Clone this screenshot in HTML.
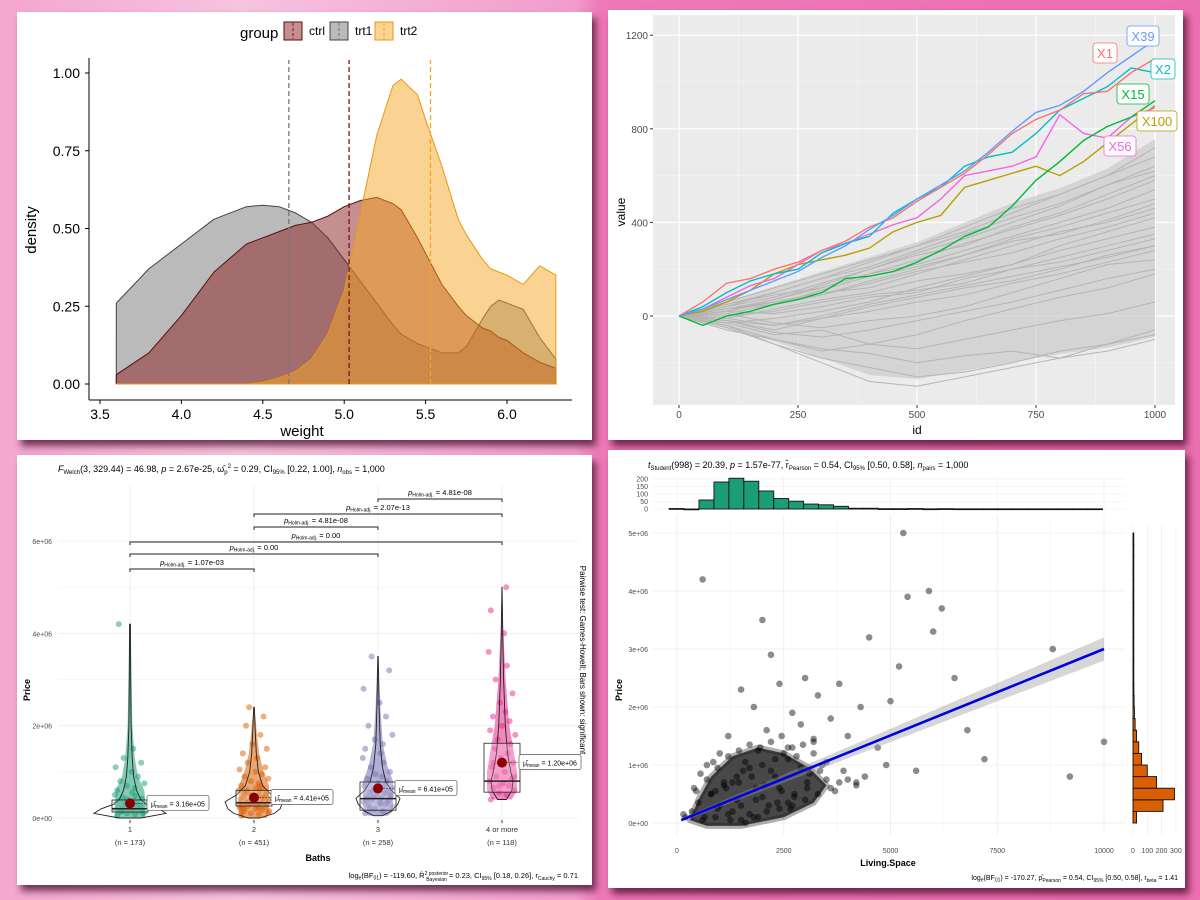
<!DOCTYPE html>
<html><head><meta charset="utf-8">
<style>
html,body{margin:0;padding:0;width:1200px;height:900px;overflow:hidden;}
body{background:linear-gradient(90deg,#f4a6cf 0%,#f7c3df 20%,#f29ccb 48%,#ee79b8 50%,#ec6fb2 100%);position:relative;font-family:"Liberation Sans",sans-serif;}
.panel{position:absolute;background:#fff;box-shadow:4px 6px 7px rgba(70,10,40,0.75);}
svg{position:absolute;left:0;top:0;}
</style></head>
<body>
<div class="panel" style="left:17px;top:12px;width:575px;height:428px"></div>
<div class="panel" style="left:608px;top:10px;width:575px;height:430px"></div>
<div class="panel" style="left:17px;top:455px;width:575px;height:430px"></div>
<div class="panel" style="left:608px;top:450px;width:577px;height:438px"></div>
<svg id="s" width="1200" height="900" xmlns="http://www.w3.org/2000/svg" font-family="Liberation Sans, sans-serif"></svg>
<script>
// ===== Panel 1: density =====
const densX=[3.6,3.8,4.0,4.2,4.4,4.5,4.6,4.7,4.8,4.9,5.0,5.1,5.2,5.3,5.35,5.45,5.5,5.6,5.7,5.75,5.85,5.9,5.95,6.0,6.1,6.2,6.3];
const densCtrl=[0.03,0.10,0.22,0.36,0.45,0.47,0.49,0.51,0.52,0.54,0.57,0.59,0.60,0.58,0.56,0.47,0.42,0.32,0.25,0.22,0.18,0.17,0.15,0.14,0.10,0.07,0.05];
const densTrt1=[0.26,0.37,0.45,0.53,0.57,0.575,0.57,0.55,0.52,0.47,0.40,0.33,0.26,0.19,0.16,0.13,0.12,0.10,0.10,0.12,0.21,0.25,0.27,0.26,0.24,0.15,0.08];
const densTrt2=[0,0,0,0,0,0.005,0.02,0.04,0.08,0.16,0.30,0.55,0.80,0.96,0.98,0.93,0.85,0.70,0.53,0.48,0.40,0.37,0.36,0.35,0.32,0.38,0.35];
const groupMeans=[5.03,4.66,5.53];
const groupNames=['ctrl','trt1','trt2'];
const xTicks1=[3.5,4.0,4.5,5.0,5.5,6.0];
const yTicks1=[0,0.25,0.5,0.75,1.0];
// ===== Panel 2: random walks =====
const walkIds=[0,100,200,300,400,500,600,700,800,900,1000];
const greyWalks=[
[0,-20,-60,-10,40,80,120,150,200,260,300],[0,30,60,90,150,200,260,330,380,440,500],
[0,-40,-100,-150,-120,-80,-20,30,80,120,180],[0,50,100,160,210,280,350,420,480,560,620],
[0,20,10,40,80,100,160,200,230,280,330],[0,-30,-80,-60,-120,-140,-100,-60,-20,10,60],
[0,40,80,140,200,260,300,380,440,520,600],[0,10,-30,-50,-20,0,40,100,160,220,240],
[0,60,120,180,240,300,380,460,520,600,680],[0,-10,30,70,100,150,180,220,300,360,420],
[0,-50,-120,-180,-220,-260,-240,-200,-150,-120,-80],[0,30,70,120,180,220,280,340,400,460,540],
[0,20,60,100,120,180,240,300,360,400,460],[0,-20,-40,-10,20,60,90,140,180,230,280],
[0,40,100,160,230,300,360,440,520,600,720],[0,-30,-10,20,60,120,170,220,280,330,380],
[0,10,50,90,140,190,230,270,330,380,440],[0,-60,-100,-140,-160,-200,-170,-150,-180,-120,-60],
[0,30,50,110,170,210,260,320,350,410,480],[0,0,20,60,90,110,140,200,250,300,350],
[0,50,90,120,180,240,310,370,430,500,580],[0,-20,-70,-90,-60,-20,20,60,110,160,200],
[0,-40,-120,-200,-280,-300,-260,-220,-180,-150,-100],[0,20,70,130,200,270,330,400,470,560,640],
[0,-10,-40,0,50,90,130,170,210,250,300]];
const hiIds=[0,50,100,150,200,250,300,350,400,450,500,550,600,650,700,750,800,850,900,950,1000];
const walkX39=[0,30,70,110,150,190,250,300,370,430,500,560,620,700,790,870,900,960,1040,1110,1180];
const walkX1=[0,60,140,160,200,230,280,320,380,420,490,550,610,690,780,840,880,950,960,1040,1100];
const walkX2=[0,40,100,150,180,200,270,310,340,440,500,550,640,680,700,780,880,930,980,1060,1040];
const walkX15=[0,-40,0,20,50,70,100,160,170,190,230,280,340,380,470,580,660,750,810,850,920];
const walkX100=[0,20,60,110,180,220,240,260,290,360,400,430,550,580,610,640,600,660,740,820,900];
const walkX56=[0,30,80,130,160,220,280,310,350,390,420,500,600,620,640,680,860,780,760,850,890];
const hiNames=['X39','X1','X2','X15','X100','X56'];
const xTicks2=[0,250,500,750,1000];
const yTicks2=[0,400,800,1200];
// ===== Panel 3: violins =====
const bathCats=['1','2','3','4 or more'];
const bathN=['(n = 173)','(n = 451)','(n = 258)','(n = 118)'];
const priceG1=[0.05,0.08,0.1,0.12,0.13,0.15,0.16,0.18,0.19,0.2,0.21,0.22,0.23,0.25,0.26,0.27,0.28,0.3,0.31,0.32,0.34,0.35,0.37,0.38,0.4,0.42,0.45,0.48,0.5,0.55,0.6,0.65,0.7,0.75,0.8,0.9,1.0,1.1,1.2,1.3,1.5,4.2,0.1,0.2,0.3,0.15,0.25,0.35];
const priceG2=[0.05,0.08,0.1,0.12,0.15,0.18,0.2,0.22,0.24,0.25,0.27,0.28,0.3,0.31,0.32,0.33,0.35,0.36,0.38,0.4,0.42,0.44,0.46,0.48,0.5,0.52,0.55,0.58,0.6,0.65,0.7,0.75,0.8,0.85,0.9,0.95,1.0,1.05,1.1,1.2,1.3,1.4,1.5,1.6,1.8,2.0,2.2,2.4,0.15,0.25,0.35,0.45,0.2,0.3,0.4,0.5,0.6,0.7,0.3,0.4,0.12,0.22,0.32,0.42,0.55,0.65];
const priceG3=[0.1,0.15,0.2,0.25,0.28,0.3,0.33,0.35,0.38,0.4,0.42,0.45,0.48,0.5,0.53,0.55,0.58,0.6,0.65,0.7,0.75,0.8,0.85,0.9,0.95,1.0,1.1,1.2,1.3,1.4,1.5,1.6,1.7,1.8,2.0,2.2,2.5,2.8,3.2,3.5,0.3,0.4,0.5,0.6,0.7,0.2,0.35,0.45];
const priceG4=[0.4,0.5,0.55,0.6,0.65,0.7,0.75,0.8,0.85,0.9,1.0,1.1,1.2,1.3,1.4,1.5,1.6,1.7,1.8,1.9,2.0,2.1,2.2,2.3,2.5,2.7,3.0,3.3,3.6,4.0,4.5,5.0,0.7,0.9,1.2];
const jitter=[-0.8,0.3,-0.2,0.9,-0.6,0.5,0.1,-0.9,0.7,-0.4,0.2,-0.7,0.8,-0.1,0.4,-0.5,0.6,-0.3,0.95,-0.85,0.0,0.55,-0.65,0.25,-0.15,0.75,-0.45,0.35,-0.95,0.15];
const boxQ1=[0.13,0.26,0.17,0.56], boxMed=[0.2,0.33,0.42,0.8], boxQ3=[0.39,0.6,0.78,1.62];
const meanVals=[0.316,0.441,0.641,1.20];
const meanLbl=['3.16e+05','4.41e+05','6.41e+05','1.20e+06'];
const vioY=[[0,0.1,0.2,0.3,0.4,0.6,0.9,1.3,2,3,4.2],[0,0.1,0.2,0.35,0.5,0.7,1.0,1.4,1.9,2.4],[0.05,0.15,0.3,0.43,0.6,0.8,1.1,1.6,2.4,3.5],[0.4,0.6,0.8,1.0,1.4,2.0,3.0,4.0,5.0]];
const vioD=[[0.3,1,0.8,0.45,0.3,0.18,0.1,0.06,0.03,0.02,0.01],[0.2,0.7,0.9,1,0.6,0.3,0.15,0.08,0.04,0.01],[0.2,0.6,0.9,1,0.6,0.35,0.2,0.1,0.05,0.01],[0.4,0.9,1,0.8,0.5,0.3,0.15,0.06,0.01]];
const vioMax=[36,29,22,11];
const pairFrom=[3,2,2,1,1,1], pairTo=[4,4,3,4,3,2];
const pairLbl=['4.81e-08','2.07e-13','4.81e-08','0.00','0.00','1.07e-03'];
const yTicks3=[0,2,4,6];
// ===== Panel 4: scatter =====
const histStart=-185, histW=350;
const histCounts=[3,0,60,180,205,185,120,70,52,33,28,18,5,5,2,2,3,1,2,1,1,1,1,1,1,1,1,1,1];
const priceBinW=0.2;
const priceCounts=[25,210,290,165,100,60,40,25,15,10,8,6,5,4,3,3,2,2,2,1,1,1,1,1,1];
const ptsX=[5300,600,5900,6200,5400,2000,2200,4500,6000,8800,6500,5200,3800,1500,2400,3000,3300,4300,5000,6800,7200,10000,9200,3600,2700,2900,1800,2100,4000,4700,3200,2500,1200,1000,3400,3900,4400,5600,4900,200,150,400,700,2600,2300,1900,1700,1600,3100,3500,2800,2200,1400,1300,1100,900,800,2000,2400,3700,4200,2600,1500,1850,2750,3050];
const ptsY=[5.0,4.2,4.0,3.7,3.9,3.5,2.9,3.2,3.3,3.0,2.5,2.7,2.4,2.3,2.4,2.5,2.2,2.0,2.1,1.6,1.1,1.4,0.8,1.8,1.9,1.7,2.0,1.6,1.5,1.3,1.4,1.2,1.5,1.2,1.0,0.9,0.8,0.9,1.0,0.1,0.15,0.6,1.0,1.3,1.1,1.25,0.95,1.05,0.85,0.75,1.15,0.9,0.8,0.7,0.65,0.55,0.5,0.45,0.6,0.55,0.7,0.35,0.3,0.4,0.5,0.6];
const clusterX=[350,500,650,800,950,1100,1250,1400,1550,1700,1850,2000,2150,2300,2450,2600,2750,2900,3050,3200,3350,3500,450,700,950,1200,1450,1700,1950,2200,2450,2700,2950,3200,600,900,1200,1500,1800,2100,2400,2700,3000,3300,3600,3800,4000,4200,550,850,1150,1450,1750,2050,2350,2650,1000,1300,1600,1900];
const clusterY=[0.2,0.35,0.1,0.5,0.25,0.7,0.05,0.4,0.9,0.15,0.6,1.0,0.3,0.8,0.55,1.1,0.45,0.95,0.7,1.2,0.9,1.05,0.55,0.75,0.95,1.15,1.25,1.35,1.3,1.4,1.5,1.3,1.35,1.45,0.05,0.1,0.15,0.05,0.1,0.2,0.25,0.3,0.4,0.5,0.6,0.7,0.75,0.65,0.85,1.05,0.6,0.7,0.8,0.65,0.35,0.25,0.3,0.2,0.0,0.1];
const blobX=[300,700,1500,2500,3200,3500,3100,2500,1900,1300,800,500];
const blobY=[0.05,-0.05,-0.05,0.1,0.35,0.65,0.95,1.2,1.3,1.15,0.8,0.4];
const fitX=[100,10000], fitY=[0.05,3.0], fitSE=[0.03,0.2];
const xTicks4=[0,2500,5000,7500,10000];
const yTicks4=[0,1,2,3,4,5];

const S=document.getElementById('s');
const NS='http://www.w3.org/2000/svg';
function mk(tag,attrs,parent){const e=document.createElementNS(NS,tag);for(const k in attrs)e.setAttribute(k,attrs[k]);(parent||S).appendChild(e);return e;}
function txt(x,y,s,size,anchor,fill,parent,extra){const t=mk('text',Object.assign({x:x,y:y,'font-size':size,'text-anchor':anchor||'start',fill:fill||'#000'},extra||{}),parent);t.textContent=s;return t;}

// ---------- Panel 1 ----------
const X1=v=>100+(v-3.5)*162.8, Y1=v=>384-v*311;
const g1=mk('g',{});


const cols1=[['#8b2020',0.5,'#5a0d0d'],['#8c8c8c',0.6,'#444'],['#f5a623',0.5,'#e69a10']];
[densTrt1,densCtrl,densTrt2].forEach((d,k)=>{
  const idx=[1,0,2][k]; const c=cols1[idx];
  let p='M'+X1(densX[0])+','+Y1(0);
  densX.forEach((x,i)=>{p+=' L'+X1(x).toFixed(1)+','+Y1(d[i]).toFixed(1);});
  p+=' L'+X1(densX[densX.length-1])+','+Y1(0)+' Z';
  const e=mk('path',{d:p,fill:c[0],'fill-opacity':c[1],stroke:c[2],'stroke-width':1,'stroke-linejoin':'round'},g1);
  
  
});
const vcols=['#7a1616','#777','#f5a623'];
groupMeans.forEach((m,i)=>{
  const e=mk('line',{x1:X1(m),x2:X1(m),y1:Y1(0),y2:60,stroke:vcols[i],'stroke-width':1.3,'stroke-dasharray':'5,3'},g1);
  
  
});
mk('line',{x1:89,x2:89,y1:58,y2:400,stroke:'#000','stroke-width':1},g1);
mk('line',{x1:89,x2:572,y1:400,y2:400,stroke:'#000','stroke-width':1},g1);
xTicks1.forEach(v=>{mk('line',{x1:X1(v),x2:X1(v),y1:400,y2:404,stroke:'#000'},g1);txt(X1(v),419,v.toFixed(1),14,'middle','#000',g1);});
yTicks1.forEach(v=>{mk('line',{x1:85,x2:89,y1:Y1(v),y2:Y1(v),stroke:'#000'},g1);txt(80,Y1(v)+5,v.toFixed(2),14,'end','#000',g1);});
let t=txt(302,436,'weight',15,'middle','#000',g1);
t=txt(0,0,'density',15,'middle','#000',g1,{transform:'translate(36,230) rotate(-90)'});
t=txt(240,38,'group',15,'start','#000',g1);
const lgx=[284,330,375];
groupNames.forEach((n,i)=>{
  const lg=mk('g',{},g1);
  
  
  mk('rect',{x:lgx[i],y:22,width:18,height:18,fill:cols1[i][0],'fill-opacity':cols1[i][1],stroke:cols1[i][2]},lg);
  mk('line',{x1:lgx[i]+9,x2:lgx[i]+9,y1:23,y2:39,stroke:vcols[i],'stroke-dasharray':'3,2'},lg);
  txt(lgx[i]+25,35,n,12,'start','#000',lg);
});

// ---------- Panel 2 ----------
const X2=v=>679+v*0.476, Y2=v=>316-v*0.234;
const g2=mk('g',{});


mk('rect',{x:653,y:15,width:522,height:390,fill:'#ebebeb'},g2);
[125,375,625,875].forEach(v=>mk('line',{x1:X2(v),x2:X2(v),y1:15,y2:405,stroke:'#f5f5f5','stroke-width':0.6},g2));
[-200,200,600,1000].forEach(v=>mk('line',{x1:653,x2:1175,y1:Y2(v),y2:Y2(v),stroke:'#f5f5f5','stroke-width':0.6},g2));
xTicks2.forEach(v=>{mk('line',{x1:X2(v),x2:X2(v),y1:15,y2:405,stroke:'#fff','stroke-width':1.2},g2);mk('line',{x1:X2(v),x2:X2(v),y1:405,y2:408,stroke:'#333'},g2);txt(X2(v),418,String(v),10,'middle','#4d4d4d',g2);});
yTicks2.forEach(v=>{mk('line',{x1:653,x2:1175,y1:Y2(v),y2:Y2(v),stroke:'#fff','stroke-width':1.2},g2);mk('line',{x1:650,x2:653,y1:Y2(v),y2:Y2(v),stroke:'#333'},g2);txt(648,Y2(v)+4,String(v),10,'end','#4d4d4d',g2);});
let up='',lo=[];
walkIds.forEach((id,i)=>{const vals=greyWalks.map(w=>w[i]);const mx=Math.max(...vals),mn=Math.min(...vals);up+=(i?' L':'M')+X2(id)+','+Y2(mx*1.05);lo.unshift(X2(id)+','+Y2(mn*0.9));});
const env=mk('path',{d:up+' L'+lo.join(' L')+' Z',fill:'#c4c4c4','fill-opacity':0.6},g2);


greyWalks.forEach((w,k)=>{
  const e=mk('polyline',{points:w.map((v,i)=>X2(walkIds[i])+','+Y2(v)).join(' '),fill:'none',stroke:'#b5b5b5','stroke-width':1},g2);
  
  
});
const hiSeries=[walkX39,walkX1,walkX2,walkX15,walkX100,walkX56];
const hiCols=['#619cff','#f8766d','#00bfc4','#00ba38','#b79f00','#f564e3'];
[4,5,3,2,1,0].forEach(k=>{
  const e=mk('polyline',{points:hiSeries[k].map((v,i)=>X2(hiIds[i])+','+Y2(v)).join(' '),fill:'none',stroke:hiCols[k],'stroke-width':1.4},g2);
  
  
});
const lblPos=[[1143,36],[1105,53],[1163,69],[1133,94],[1157,121],[1120,146]];
hiNames.forEach((n,k)=>{
  const w=n.length*8+8;
  const lg=mk('g',{},g2);
  
  
  mk('rect',{x:lblPos[k][0]-w/2,y:lblPos[k][1]-10,width:w,height:20,rx:3,fill:'#fff','fill-opacity':0.9,stroke:hiCols[k],'stroke-width':0.8},lg);
  txt(lblPos[k][0],lblPos[k][1]+5,n,13,'middle',hiCols[k],lg);
});
t=txt(917,434,'id',12,'middle','#000',g2);
t=txt(0,0,'value',12,'middle','#000',g2,{transform:'translate(625,212) rotate(-90)'});

// ---------- Panel 3 ----------
const catX=[130,254,378,502];
const Y3=v=>818-v*46.15;
const g3=mk('g',{});


[1,3,5].forEach(v=>mk('line',{x1:58,x2:578,y1:Y3(v),y2:Y3(v),stroke:'#f2f2f2','stroke-width':0.6},g3));
yTicks3.forEach(v=>{mk('line',{x1:58,x2:578,y1:Y3(v),y2:Y3(v),stroke:'#ebebeb','stroke-width':0.8},g3);txt(52,Y3(v)+3,v===0?'0e+00':v+'e+06',7,'end','#4d4d4d',g3);});
catX.forEach(x=>mk('line',{x1:x,x2:x,y1:485,y2:830,stroke:'#ebebeb','stroke-width':0.8},g3));
const gcols=['#1b9e77','#d95f02','#7570b3','#e7298a'];
const groups=[priceG1,priceG2,priceG3,priceG4];
// dense cloud fill per group, derived from violin density
groups.forEach((vals,g)=>{
  const cx=catX[g], ys=vioY[g], ds=vioD[g];
  let r='',l=[];
  ys.forEach((v,i)=>{const w=Math.min(15,ds[i]*vioMax[g]*2.2);r+=(i?' L':'M')+(cx+w).toFixed(1)+','+Y3(v).toFixed(1);l.unshift((cx-w).toFixed(1)+','+Y3(v).toFixed(1));});
  const f=mk('path',{d:r+' L'+l.join(' L')+' Z',fill:gcols[g],'fill-opacity':0.55},g3);
  
  
});
groups.forEach((vals,g)=>{
  const cx=catX[g];
  vals.forEach((v,i)=>{
    const c=mk('circle',{cx:cx+jitter[i%jitter.length]*(g===3?14:16),cy:Y3(v),r:3,fill:gcols[g],'fill-opacity':0.5},g3);
    
    
  });
});
groups.forEach((vals,g)=>{
  const cx=catX[g];
  const ys=vioY[g], ds=vioD[g];
  let r='',l=[];
  ys.forEach((v,i)=>{const w=ds[i]*vioMax[g];r+=(i?' L':'M')+(cx+w).toFixed(1)+','+Y3(v).toFixed(1);l.unshift((cx-w).toFixed(1)+','+Y3(v).toFixed(1));});
  const vi=mk('path',{d:r+' L'+l.join(' L')+' Z',fill:'none',stroke:'#222','stroke-width':0.9},g3);
  
  
  const bx=mk('rect',{x:cx-18,y:Y3(boxQ3[g]),width:36,height:Y3(boxQ1[g])-Y3(boxQ3[g]),fill:'#fff','fill-opacity':0.2,stroke:'#222','stroke-width':0.8},g3);
  
  
  mk('line',{x1:cx-18,x2:cx+18,y1:Y3(boxMed[g]),y2:Y3(boxMed[g]),stroke:'#222','stroke-width':1.5},g3);
  const my=Y3(meanVals[g]);
  const md=mk('circle',{cx:cx,cy:my,r:5,fill:'#8b0000'},g3);
  
  
  mk('line',{x1:cx+5,x2:cx+17,y1:my,y2:my,stroke:'#333','stroke-width':0.6,'stroke-dasharray':'2,1'},g3);
  const lg=mk('g',{},g3);
  
  
  mk('rect',{x:cx+17,y:my-8,width:62,height:15,rx:2,fill:'#fff',stroke:'#555','stroke-width':0.7},lg);
  const tt=txt(cx+21,my+3,'',7,'start','#000',lg);
  tt.innerHTML='μ̂<tspan font-size="5" dy="1.5">mean</tspan><tspan dy="-1.5"> = '+meanLbl[g]+'</tspan>';
  txt(cx,832,bathCats[g],7.5,'middle','#333',g3);
  txt(cx,845,bathN[g],7.5,'middle','#333',g3);
  mk('line',{x1:cx,x2:cx,y1:820,y2:823,stroke:'#333'},g3);
});
const bracketY=[499,514,527,542,554,569];
pairFrom.forEach((a,i)=>{
  const x1=catX[a-1],x2=catX[pairTo[i]-1],y=bracketY[i];
  const b=mk('path',{d:`M${x1},${y+3} L${x1},${y} L${x2},${y} L${x2},${y+3}`,fill:'none',stroke:'#222','stroke-width':1},g3);
  
  
  const tt=txt((x1+x2)/2,y-4,'',7.5,'middle','#000',g3);
  tt.innerHTML='<tspan font-style="italic">p</tspan><tspan font-size="5" dy="1.5">Holm-adj.</tspan><tspan dy="-1.5"> = '+pairLbl[i]+'</tspan>';
});
t=txt(58,472,'',9,'start','#000',g3);
t.innerHTML='<tspan font-style="italic">F</tspan><tspan font-size="6" dy="2">Welch</tspan><tspan dy="-2">(3, 329.44) = 46.98, </tspan><tspan font-style="italic">p</tspan> = 2.67e-25, ω̂<tspan font-size="6" dy="2">p</tspan><tspan font-size="6" dy="-6">2</tspan><tspan dy="4"> = 0.29, CI</tspan><tspan font-size="6" dy="2">95%</tspan><tspan dy="-2"> [0.22, 1.00], </tspan><tspan font-style="italic">n</tspan><tspan font-size="6" dy="2">obs</tspan><tspan dy="-2"> = 1,000</tspan>';


t=txt(318,861,'Baths',9,'middle','#000',g3,{'font-weight':'bold'});
t=txt(0,0,'Price',9,'middle','#000',g3,{'font-weight':'bold',transform:'translate(30,690) rotate(-90)'});
t=txt(0,0,'Pairwise test: Games-Howell; Bars shown: significant',8,'middle','#000',g3,{transform:'translate(580,660) rotate(90)'});
t=txt(578,878,'',7.5,'end','#000',g3);
t.innerHTML='log<tspan font-size="5" dy="1.5">e</tspan><tspan dy="-1.5">(BF</tspan><tspan font-size="5" dy="1.5">01</tspan><tspan dy="-1.5">) = -119.60, R̂</tspan><tspan font-size="5" dy="-3">2 posterior</tspan><tspan font-size="5" dx="-22" dy="6">Bayesian</tspan><tspan dy="-3"> = 0.23, CI</tspan><tspan font-size="5" dy="2">95%</tspan><tspan dy="-2"> [0.18, 0.26], r</tspan><tspan font-size="5" dy="2">Cauchy</tspan><tspan dy="-2"> = 0.71</tspan>';



// ---------- Panel 4 ----------
const X4=v=>677+v*0.0427, Y4=v=>823-v*58;
const g4=mk('g',{});


[1250,3750,6250,8750].forEach(v=>mk('line',{x1:X4(v),x2:X4(v),y1:515,y2:835,stroke:'#f3f3f3','stroke-width':0.6},g4));
xTicks4.forEach(v=>{mk('line',{x1:X4(v),x2:X4(v),y1:515,y2:835,stroke:'#ebebeb','stroke-width':0.8},g4);txt(X4(v),853,String(v),7,'middle','#4d4d4d',g4);});
yTicks4.forEach(v=>{mk('line',{x1:652,x2:1125,y1:Y4(v),y2:Y4(v),stroke:'#ebebeb','stroke-width':0.8},g4);txt(648,Y4(v)+3,v===0?'0e+00':v+'e+06',7,'end','#4d4d4d',g4);});
const HY=v=>509-v*0.15;
[0,50,100,150,200].forEach(v=>{mk('line',{x1:652,x2:1125,y1:HY(v),y2:HY(v),stroke:'#ebebeb','stroke-width':0.6},g4);txt(648,HY(v)+2.5,String(v),7,'end','#4d4d4d',g4);});
xTicks4.forEach(v=>mk('line',{x1:X4(v),x2:X4(v),y1:477,y2:510,stroke:'#ebebeb','stroke-width':0.6},g4));
histCounts.forEach((c,i)=>{
  const x0=X4(histStart+i*histW),x1=X4(histStart+(i+1)*histW);
  const r=mk('rect',{x:x0,y:HY(c),width:x1-x0,height:Math.max(c*0.15,0.8),fill:'#1b9e77',stroke:'#111','stroke-width':0.9},g4);
  
  
});
const HX=v=>1133+v*0.143;
[0,100,200,300].forEach(v=>{mk('line',{x1:HX(v),x2:HX(v),y1:525,y2:835,stroke:'#ebebeb','stroke-width':0.6},g4);txt(HX(v),853,String(v),7,'middle','#4d4d4d',g4);});
priceCounts.forEach((c,i)=>{
  const y0=Y4(i*priceBinW),y1=Y4((i+1)*priceBinW);
  const r=mk('rect',{x:HX(0),y:y1,width:Math.max(c*0.143,0.8),height:y0-y1,fill:'#d95f02',stroke:'#111','stroke-width':0.9},g4);
  
  
});
const blob=mk('path',{d:blobX.map((x,i)=>(i?'L':'M')+X4(x)+','+Y4(blobY[i])).join(' ')+' Z',fill:'#1a1a1a','fill-opacity':0.8,stroke:'#1a1a1a','stroke-width':6,'stroke-opacity':0.35,'stroke-linejoin':'round'},g4);


clusterX.forEach((x,i)=>{
  const c=mk('circle',{cx:X4(x),cy:Y4(clusterY[i]),r:3.3,fill:'#000','fill-opacity':0.45},g4);
  
  
});
ptsX.forEach((x,i)=>{
  const c=mk('circle',{cx:X4(x),cy:Y4(ptsY[i]),r:3.3,fill:'#000','fill-opacity':0.45},g4);
  
  
});
const band=mk('path',{d:`M${X4(fitX[0])},${Y4(fitY[0]+fitSE[0])} L${X4(fitX[1])},${Y4(fitY[1]+fitSE[1])} L${X4(fitX[1])},${Y4(fitY[1]-fitSE[1])} L${X4(fitX[0])},${Y4(fitY[0]-fitSE[0])} Z`,fill:'#999','fill-opacity':0.4},g4);


const fl=mk('line',{x1:X4(fitX[0]),y1:Y4(fitY[0]),x2:X4(fitX[1]),y2:Y4(fitY[1]),stroke:'#0000e0','stroke-width':2.6},g4);


t=txt(648,468,'',9,'start','#000',g4);
t.innerHTML='<tspan font-style="italic">t</tspan><tspan font-size="6" dy="2">Student</tspan><tspan dy="-2">(998) = 20.39, </tspan><tspan font-style="italic">p</tspan> = 1.57e-77, r̂<tspan font-size="6" dy="2">Pearson</tspan><tspan dy="-2"> = 0.54, CI</tspan><tspan font-size="6" dy="2">95%</tspan><tspan dy="-2"> [0.50, 0.58], </tspan><tspan font-style="italic">n</tspan><tspan font-size="6" dy="2">pairs</tspan><tspan dy="-2"> = 1,000</tspan>';


t=txt(888,866,'Living.Space',9,'middle','#000',g4,{'font-weight':'bold'});
t=txt(0,0,'Price',9,'middle','#000',g4,{'font-weight':'bold',transform:'translate(622,690) rotate(-90)'});
t=txt(1178,880,'',7,'end','#000',g4);
t.innerHTML='log<tspan font-size="5" dy="1.5">e</tspan><tspan dy="-1.5">(BF</tspan><tspan font-size="5" dy="1.5">01</tspan><tspan dy="-1.5">) = -170.27, ρ̂</tspan><tspan font-size="5" dy="2">Pearson</tspan><tspan dy="-2"> = 0.54, CI</tspan><tspan font-size="5" dy="2">95%</tspan><tspan dy="-2"> [0.50, 0.58], r</tspan><tspan font-size="5" dy="2">beta</tspan><tspan dy="-2"> = 1.41</tspan>';


</script>
</body></html>
